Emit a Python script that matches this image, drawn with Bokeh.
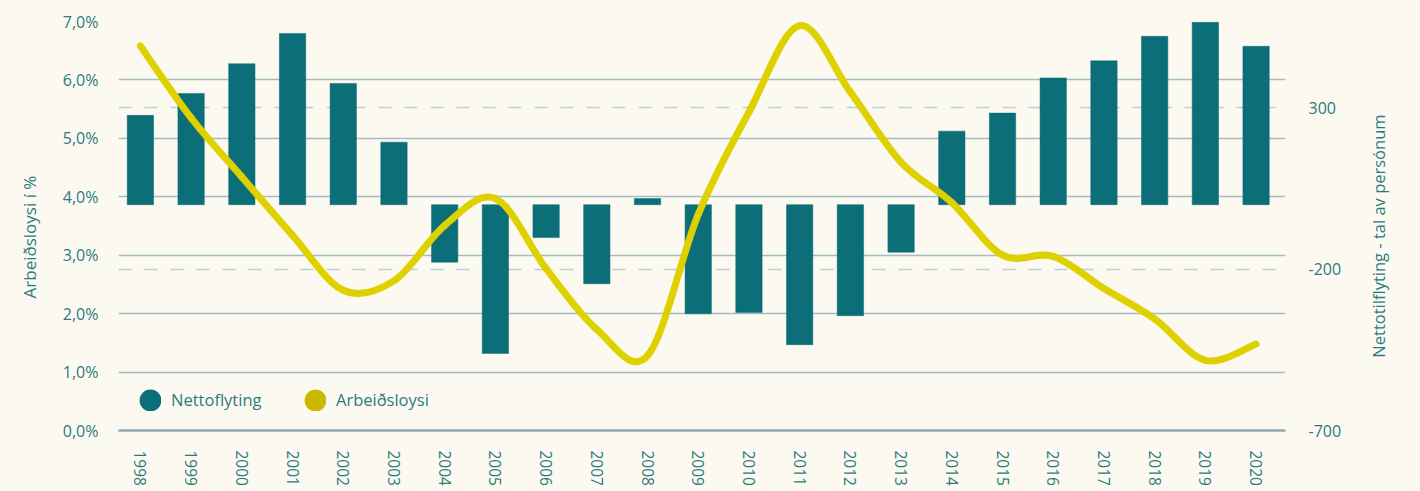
import math
import numpy as np
from bokeh.plotting import figure
from bokeh.models import (Range1d, LinearAxis, FixedTicker, Grid, Legend,
                          LegendItem, ColumnDataSource)
from bokeh.embed import file_html
from bokeh.resources import INLINE

# ---------------- data ----------------
years = list(range(1998, 2021))
year_labels = [str(y) for y in years]
nettoflyting = [277, 345, 437, 531, 376, 194, -178, -461, -102, -245, 19,
                -338, -334, -434, -344, -147, 228, 284, 393, 446, 522, 566, 491]
arbeidsloysi = [6.58, 5.35, 4.34, 3.34, 2.40, 2.56, 3.51, 3.97, 2.77, 1.73,
                1.28, 3.70, 5.45, 6.93, 5.79, 4.59, 3.90, 3.00, 2.98, 2.43,
                1.91, 1.20, 1.48]
left_ticks = [0, 1, 2, 3, 4, 5, 6, 7]
left_tick_labels = ["0,0%", "1,0%", "2,0%", "3,0%", "4,0%", "5,0%", "6,0%", "7,0%"]
right_ticks = [-700, -200, 300]
right_tick_labels = ["-700", "-200", "300"]
series_names = ["Nettoflyting", "Arbeiðsloysi"]
left_title = "Arbeiðsloysi í %"
right_title = "Nettotilflyting - tal av persónum"

# ---------------- style ----------------
BG = "#fcfaf0"
TEAL = "#0b6e78"
YELLOW = "#dfd000"
YELLOW_LEG = "#cbb900"
TXT = "#2b7a80"
GRID = "#a3bbc1"
DASH = "#b9cfd2"
FONT = "Open Sans"

p = figure(width=1404, height=483, output_backend="svg", toolbar_location=None,
           x_range=Range1d(1997.568, 2020.58), y_range=Range1d(0, 7),
           min_border_left=110, min_border_right=127, min_border_top=13,
           min_border_bottom=61)
p.background_fill_color = BG
p.border_fill_color = BG
p.outline_line_color = None
p.extra_y_ranges = {"right": Range1d(-700, 568)}

# bars
bar_src = ColumnDataSource(dict(x=years, top=nettoflyting))
p.vbar(x="x", top="top", bottom=0, width=0.52, source=bar_src,
       fill_color=TEAL, line_color=TEAL, line_width=0.5, y_range_name="right")

# smooth line (Catmull-Rom bezier through the data points)
n = len(years)
def pt(i):
    i = max(0, min(n - 1, i))
    return years[i], arbeidsloysi[i]
bz = dict(x0=[], y0=[], x1=[], y1=[], cx0=[], cy0=[], cx1=[], cy1=[])
for i in range(n - 1):
    xa, ya = pt(i - 1); xb, yb = pt(i); xc, yc = pt(i + 1); xd, yd = pt(i + 2)
    bz["x0"].append(xb); bz["y0"].append(yb)
    bz["x1"].append(xc); bz["y1"].append(yc)
    bz["cx0"].append(xb + (xc - xa) / 6); bz["cy0"].append(yb + (yc - ya) / 6)
    bz["cx1"].append(xc - (xd - xb) / 6); bz["cy1"].append(yc - (yd - yb) / 6)
p.bezier(x0="x0", y0="y0", x1="x1", y1="y1", cx0="cx0", cy0="cy0",
         cx1="cx1", cy1="cy1", source=ColumnDataSource(bz),
         line_color=YELLOW, line_width=7, line_cap="round")

# axes
xa_ = p.xaxis[0]
xa_.ticker = FixedTicker(ticks=years)
xa_.major_label_overrides = {y: l for y, l in zip(years, year_labels)}
xa_.major_label_orientation = "vertical"
xa_.major_tick_line_color = None
xa_.minor_tick_line_color = None
xa_.axis_line_color = "#8ea8ae"
xa_.axis_line_width = 2.5
xa_.major_label_standoff = 14
xa_.major_label_text_font = FONT
xa_.major_label_text_font_size = "15.5px"
xa_.major_label_text_color = TXT

ya_ = p.yaxis[0]
ya_.ticker = FixedTicker(ticks=left_ticks)
ya_.major_label_overrides = {t: l for t, l in zip(left_ticks, left_tick_labels)}
ya_.major_tick_line_color = None
ya_.minor_tick_line_color = None
ya_.axis_line_color = None
ya_.major_label_standoff = 14
ya_.major_label_text_font = FONT
ya_.major_label_text_font_size = "16px"
ya_.major_label_text_color = TXT
# trailing no-break spaces shift the centred title slightly downwards
ya_.axis_label = left_title + "\u00a0" * 5
ya_.axis_label_text_font = FONT
ya_.axis_label_text_font_size = "17px"
ya_.axis_label_text_font_style = "normal"
ya_.axis_label_text_color = TXT
ya_.axis_label_standoff = 19

ra = LinearAxis(y_range_name="right", ticker=FixedTicker(ticks=right_ticks))
ra.major_label_overrides = {t: l for t, l in zip(right_ticks, right_tick_labels)}
ra.major_tick_line_color = None
ra.minor_tick_line_color = None
ra.axis_line_color = None
ra.major_label_standoff = 17
ra.major_label_text_font = FONT
ra.major_label_text_font_size = "16px"
ra.major_label_text_color = TXT
ra.axis_label_text_font = FONT
ra.axis_label_text_font_size = "16.5px"
ra.axis_label_text_font_style = "normal"
ra.axis_label_text_color = TXT
ra.axis_label_standoff = 34
# title reads bottom-to-top, starting near the bottom of the axis
pad = "\u00a0" * 17
try:
    ra.axis_label_orientation = math.pi / 2
    ra.axis_label_align = "start"
    ra.axis_label = pad + right_title
except Exception:
    ra.axis_label = right_title
p.add_layout(ra, "right")

# grids
p.xgrid.grid_line_color = None
p.ygrid[0].ticker = FixedTicker(ticks=left_ticks[1:])
p.ygrid.grid_line_color = GRID
p.ygrid.grid_line_width = 1.3
dg = Grid(dimension=1, y_range_name="right", ticker=FixedTicker(ticks=[-200, 300]),
          grid_line_color=DASH, grid_line_width=1.5, grid_line_dash="13 13")
p.add_layout(dg)

# legend (dots) - dummy renderers with no visible data
nan = np.array([np.nan])
r1 = p.scatter(x=nan, y=nan, marker="circle", size=8.8, fill_color=TEAL,
               line_color=TEAL, line_width=13)
r2 = p.scatter(x=nan, y=nan, marker="circle", size=8.8, fill_color=YELLOW_LEG,
               line_color=YELLOW_LEG, line_width=13)
leg = Legend(items=[LegendItem(label=series_names[0], renderers=[r1]),
                    LegendItem(label=series_names[1], renderers=[r2])],
             orientation="horizontal", location=(21, 19),
             glyph_width=22, glyph_height=22, label_standoff=10,
             label_width=118, spacing=15, padding=0, margin=0,
             border_line_color=None, background_fill_alpha=0,
             label_text_font=FONT, label_text_font_size="16.5px",
             label_text_color=TXT)
p.add_layout(leg)

open("out.html", "w").write(
    file_html(p, INLINE).replace("<body>", '<body style="margin:8px;background:%s">' % BG))
